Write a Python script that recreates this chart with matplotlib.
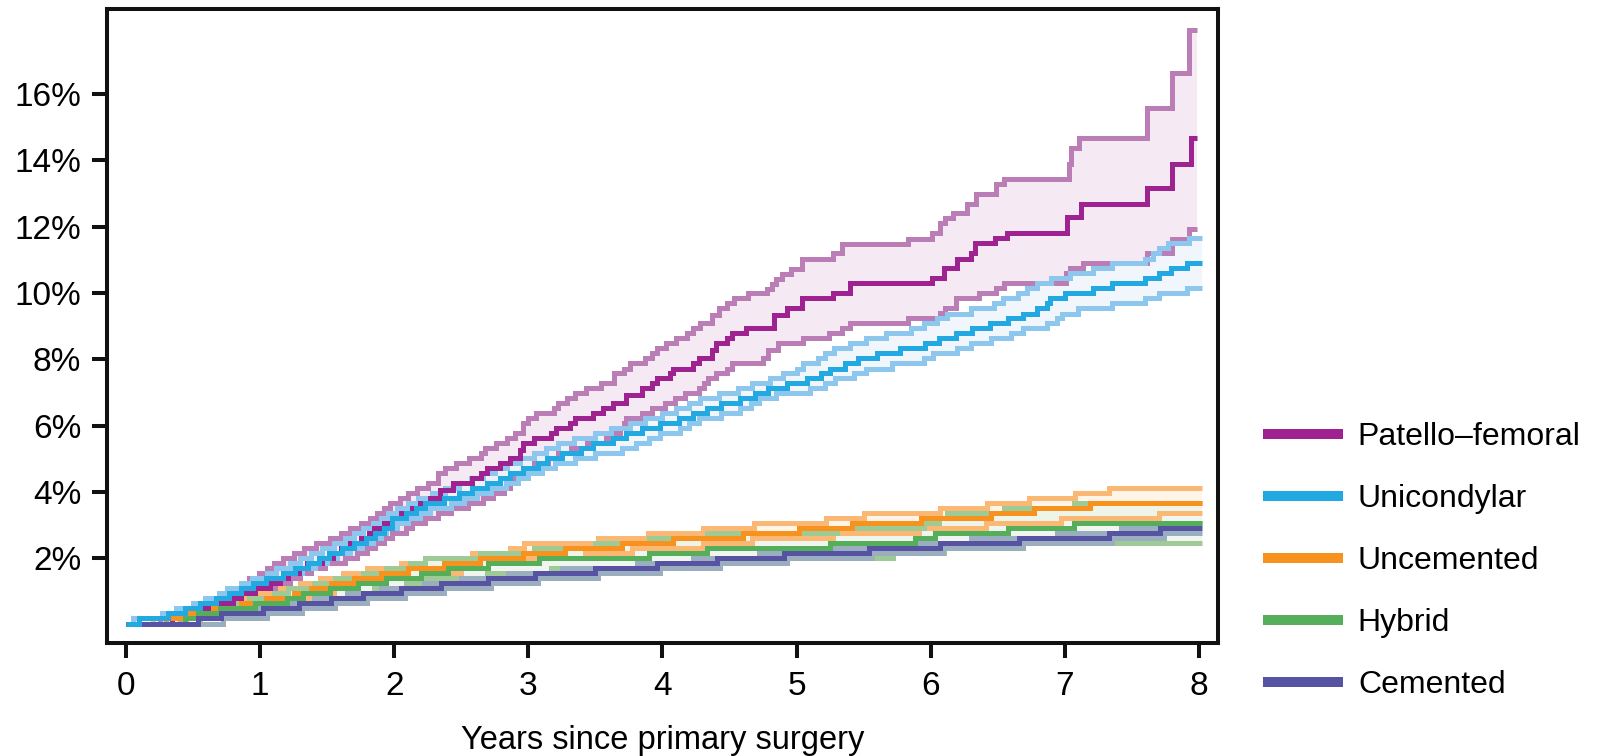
import numpy as np
import matplotlib
matplotlib.use('Agg')
import matplotlib.pyplot as plt
from matplotlib.lines import Line2D

plt.rcParams['font.family'] = ['Liberation Sans', 'DejaVu Sans']

# ---- data (years, cumulative revision %) ----
labels = ['Patello\u2013femoral', 'Unicondylar', 'Uncemented', 'Hybrid', 'Cemented']
x_ticks = [0, 1, 2, 3, 4, 5, 6, 7, 8]
y_ticks = [2, 4, 6, 8, 10, 12, 14, 16]

# Patello-femoral
pf_est_t = [0, 0.34, 0.48, 0.59, 0.69, 0.80, 0.86, 0.96, 1.07, 1.15, 1.21, 1.29, 1.35, 1.46, 1.54, 1.60, 1.67, 1.75,
            1.81, 1.85, 1.92, 1.98, 2.05, 2.13, 2.19, 2.27, 2.34, 2.44, 2.58, 2.65, 2.69, 2.79, 2.86, 2.94, 2.96, 3.04,
            3.17, 3.21, 3.31, 3.35, 3.48, 3.56, 3.63, 3.73, 3.85, 3.92, 3.96, 4.06, 4.08, 4.23, 4.27, 4.37, 4.40, 4.48,
            4.52, 4.62, 4.83, 4.93, 5.04, 5.27, 5.40, 6.01, 6.10, 6.20, 6.30, 6.33, 6.48, 6.57, 7.02, 7.12, 7.61, 7.80, 7.94]
pf_est = [0.0, 0.18, 0.33, 0.48, 0.63, 0.78, 0.94, 1.09, 1.24, 1.39, 1.54, 1.69, 1.84, 1.99, 2.14, 2.29, 2.44, 2.60,
          2.75, 2.90, 3.05, 3.20, 3.35, 3.51, 3.65, 3.80, 4.05, 4.25, 4.41, 4.56, 4.71, 4.86, 5.01, 5.26, 5.46, 5.61,
          5.76, 5.91, 6.07, 6.22, 6.37, 6.52, 6.67, 6.92, 7.12, 7.28, 7.42, 7.58, 7.72, 7.88, 8.03, 8.28, 8.48, 8.63,
          8.78, 8.93, 9.33, 9.54, 9.86, 10.00, 10.29, 10.44, 10.74, 11.04, 11.20, 11.50, 11.65, 11.80, 12.30, 12.70,
          13.16, 13.90, 14.67]
pf_hi_t = [0, 0.25, 0.40, 0.50, 0.60, 0.68, 0.75, 0.82, 0.88, 0.92, 0.99, 1.05, 1.10, 1.17, 1.25, 1.33, 1.42, 1.52,
           1.60, 1.67, 1.75, 1.82, 1.87, 1.92, 1.97, 2.04, 2.10, 2.17, 2.25, 2.33, 2.38, 2.46, 2.56, 2.65, 2.68, 2.76,
           2.84, 2.90, 2.96, 3.00, 3.06, 3.19, 3.22, 3.29, 3.35, 3.43, 3.54, 3.64, 3.71, 3.76, 3.87, 3.92, 3.96, 4.03,
           4.10, 4.18, 4.23, 4.28, 4.37, 4.42, 4.48, 4.53, 4.64, 4.78, 4.82, 4.85, 4.89, 4.96, 5.04, 5.27, 5.34, 5.83,
           6.01, 6.07, 6.11, 6.17, 6.27, 6.34, 6.49, 6.55, 7.03, 7.05, 7.11, 7.61, 7.80, 7.93]
pf_hi = [0, 0.18, 0.33, 0.48, 0.63, 0.78, 0.94, 1.09, 1.24, 1.39, 1.54, 1.69, 1.84, 1.99, 2.14, 2.29, 2.44, 2.60,
         2.75, 2.90, 3.05, 3.20, 3.35, 3.50, 3.65, 3.80, 3.95, 4.10, 4.25, 4.56, 4.71, 4.86, 5.01, 5.16, 5.31, 5.46,
         5.61, 5.76, 6.07, 6.22, 6.37, 6.52, 6.67, 6.82, 6.97, 7.12, 7.27, 7.57, 7.72, 7.88, 8.03, 8.18, 8.33, 8.48,
         8.63, 8.78, 8.93, 9.08, 9.33, 9.54, 9.69, 9.84, 9.99, 10.12, 10.27, 10.42, 10.57, 10.72, 11.04, 11.20, 11.47,
         11.63, 11.80, 12.10, 12.25, 12.40, 12.70, 13.00, 13.30, 13.44, 13.90, 14.36, 14.67, 15.57, 16.63, 17.95]
pf_lo_t = [0, 0.40, 0.45, 0.60, 0.72, 0.82, 0.90, 1.00, 1.08, 1.16, 1.22, 1.30, 1.38, 1.48, 1.63, 1.72, 1.80, 1.86,
           1.92, 1.98, 2.09, 2.13, 2.23, 2.33, 2.42, 2.55, 2.66, 2.74, 2.82, 2.86, 2.90, 2.97, 3.00, 3.04, 3.15, 3.22,
           3.32, 3.44, 3.58, 3.64, 3.68, 3.71, 3.73, 3.85, 3.92, 4.02, 4.09, 4.17, 4.27, 4.31, 4.34, 4.40, 4.48, 4.52,
           4.75, 4.79, 4.86, 5.05, 5.24, 5.34, 5.40, 5.83, 6.07, 6.11, 6.19, 6.36, 6.49, 6.55, 7.01, 7.04, 7.14, 7.61,
           7.80, 7.93]
pf_lo = [0, 0.03, 0.18, 0.33, 0.48, 0.63, 0.78, 0.94, 1.09, 1.24, 1.39, 1.54, 1.69, 1.84, 1.99, 2.14, 2.29, 2.44,
         2.60, 2.75, 2.90, 3.05, 3.20, 3.35, 3.50, 3.65, 3.80, 3.95, 4.10, 4.25, 4.41, 4.56, 4.71, 4.86, 5.01, 5.16,
         5.31, 5.46, 5.61, 5.76, 5.91, 6.07, 6.22, 6.37, 6.52, 6.67, 6.82, 6.97, 7.12, 7.27, 7.42, 7.57, 7.72, 7.88,
         8.03, 8.28, 8.48, 8.65, 8.80, 8.95, 9.10, 9.25, 9.40, 9.55, 9.86, 10.00, 10.16, 10.29, 10.59, 10.74, 10.89,
         11.20, 11.62, 11.92]
pf_end = 7.99

# Unicondylar
uni_est_t = [0, 0.10, 0.31, 0.44, 0.55, 0.67, 0.77, 0.86, 0.95, 1.04, 1.17, 1.26, 1.36, 1.44, 1.51, 1.61, 1.70, 1.79,
             1.86, 1.92, 1.98, 2.09, 2.16, 2.23, 2.37, 2.48, 2.58, 2.69, 2.79, 2.86, 2.96, 3.07, 3.14, 3.25, 3.39, 3.48,
             3.63, 3.73, 3.85, 3.98, 4.12, 4.23, 4.33, 4.44, 4.58, 4.69, 4.79, 4.93, 5.08, 5.18, 5.25, 5.36, 5.46, 5.60,
             5.77, 5.96, 6.06, 6.19, 6.31, 6.44, 6.58, 6.69, 6.79, 6.87, 6.89, 7.00, 7.21, 7.35, 7.60, 7.70, 7.79, 7.91]
uni_est = [0, 0.18, 0.33, 0.48, 0.63, 0.78, 0.94, 1.09, 1.24, 1.39, 1.54, 1.69, 1.84, 1.99, 2.14, 2.29, 2.44, 2.60,
           2.75, 2.90, 3.20, 3.35, 3.50, 3.65, 3.80, 3.95, 4.10, 4.25, 4.41, 4.56, 4.71, 4.86, 5.01, 5.16, 5.31, 5.46,
           5.61, 5.76, 5.91, 6.07, 6.22, 6.37, 6.52, 6.67, 6.82, 6.97, 7.12, 7.27, 7.42, 7.57, 7.72, 7.88, 8.03, 8.18,
           8.33, 8.48, 8.63, 8.78, 8.93, 9.08, 9.23, 9.38, 9.54, 9.69, 9.84, 9.99, 10.14, 10.29, 10.44, 10.59, 10.74, 10.89]
uni_hi_t = [0, 0.05, 0.27, 0.37, 0.50, 0.59, 0.69, 0.75, 0.86, 0.94, 1.05, 1.12, 1.22, 1.30, 1.38, 1.46, 1.55, 1.63,
            1.70, 1.77, 1.84, 1.90, 1.95, 2.02, 2.10, 2.18, 2.28, 2.38, 2.48, 2.57, 2.66, 2.75, 2.84, 2.94, 3.04, 3.13,
            3.22, 3.34, 3.50, 3.62, 3.76, 3.87, 4.00, 4.10, 4.20, 4.28, 4.42, 4.56, 4.67, 4.80, 4.90, 5.00, 5.05, 5.16,
            5.21, 5.28, 5.40, 5.52, 5.67, 5.85, 5.95, 6.05, 6.12, 6.30, 6.47, 6.54, 6.65, 6.72, 6.79, 6.90, 7.04, 7.21,
            7.35, 7.60, 7.66, 7.70, 7.77, 7.93]
uni_hi = [0, 0.18, 0.33, 0.48, 0.63, 0.78, 0.94, 1.09, 1.24, 1.39, 1.54, 1.69, 1.84, 1.99, 2.14, 2.29, 2.44, 2.60,
          2.75, 2.90, 3.05, 3.20, 3.35, 3.50, 3.65, 3.80, 3.95, 4.10, 4.25, 4.41, 4.56, 4.71, 4.86, 5.01, 5.16, 5.31,
          5.46, 5.61, 5.76, 5.91, 6.07, 6.22, 6.37, 6.52, 6.67, 6.82, 6.97, 7.12, 7.27, 7.42, 7.57, 7.72, 7.88, 8.03,
          8.18, 8.33, 8.48, 8.63, 8.78, 8.93, 9.08, 9.23, 9.38, 9.54, 9.69, 9.84, 9.99, 10.14, 10.29, 10.44, 10.59,
          10.74, 10.89, 11.04, 11.20, 11.35, 11.50, 11.65]
uni_lo_t = [0, 0.20, 0.36, 0.50, 0.60, 0.72, 0.82, 0.91, 1.01, 1.10, 1.21, 1.31, 1.41, 1.50, 1.57, 1.67, 1.76, 1.84,
            1.90, 1.94, 2.02, 2.10, 2.19, 2.27, 2.42, 2.52, 2.62, 2.72, 2.83, 2.92, 3.00, 3.10, 3.20, 3.35, 3.50, 3.70,
            3.80, 3.90, 3.98, 4.13, 4.20, 4.27, 4.44, 4.58, 4.66, 4.72, 4.85, 5.10, 5.21, 5.29, 5.43, 5.52, 5.71, 5.95,
            6.02, 6.20, 6.30, 6.45, 6.60, 6.69, 6.87, 6.94, 6.98, 7.10, 7.35, 7.60, 7.70, 7.91]
uni_lo = [0, 0.18, 0.33, 0.48, 0.63, 0.78, 0.94, 1.09, 1.24, 1.39, 1.54, 1.69, 1.84, 1.99, 2.14, 2.29, 2.44, 2.60,
          2.75, 2.90, 3.05, 3.20, 3.35, 3.50, 3.65, 3.80, 3.95, 4.10, 4.25, 4.41, 4.56, 4.71, 4.86, 5.01, 5.16, 5.31,
          5.46, 5.61, 5.76, 5.91, 6.07, 6.22, 6.37, 6.52, 6.67, 6.82, 6.97, 7.12, 7.27, 7.42, 7.57, 7.72, 7.88, 8.03,
          8.18, 8.33, 8.48, 8.63, 8.78, 8.93, 9.08, 9.23, 9.38, 9.54, 9.69, 9.84, 9.99, 10.14]
uni_end = 8.02

# Uncemented
unc_est_t = [0, 0.30, 0.45, 0.65, 0.86, 1.04, 1.25, 1.38, 1.53, 1.70, 1.90, 2.10, 2.37, 2.64, 2.96, 3.27, 3.70, 4.08,
             4.60, 5.02, 5.41, 5.93, 6.45, 6.77, 7.19]
unc_est = [0, 0.18, 0.33, 0.48, 0.63, 0.78, 0.94, 1.09, 1.24, 1.39, 1.54, 1.69, 1.84, 1.99, 2.14, 2.29, 2.44, 2.60,
           2.75, 2.90, 3.05, 3.20, 3.35, 3.50, 3.65]
unc_hi_t = [0, 0.20, 0.35, 0.50, 0.70, 0.85, 1.00, 1.15, 1.30, 1.45, 1.62, 1.80, 2.05, 2.23, 2.58, 2.86, 2.97, 3.52,
            3.89, 4.30, 4.68, 5.22, 5.50, 6.07, 6.42, 6.73, 7.08, 7.33]
unc_hi = [0, 0.18, 0.33, 0.48, 0.63, 0.78, 0.94, 1.09, 1.24, 1.39, 1.54, 1.69, 1.84, 1.99, 2.14, 2.29, 2.44, 2.60,
          2.75, 2.90, 3.05, 3.20, 3.35, 3.50, 3.65, 3.80, 3.95, 4.10]
unc_lo_t = [0, 0.45, 0.60, 0.80, 1.00, 1.20, 1.38, 1.55, 1.72, 1.90, 2.20, 2.50, 2.70, 2.96, 3.42, 3.77, 4.30, 4.67,
            5.27, 5.91, 6.41, 6.97, 7.70]
unc_lo = [0, 0.18, 0.33, 0.48, 0.63, 0.78, 0.94, 1.09, 1.24, 1.39, 1.54, 1.69, 1.84, 1.99, 2.14, 2.29, 2.44, 2.60,
          2.75, 2.90, 3.05, 3.20, 3.35]
unc_end = 8.02

# Hybrid
hyb_est_t = [0, 0.44, 0.54, 0.70, 0.96, 1.20, 1.32, 1.52, 1.73, 1.94, 2.20, 2.40, 2.70, 3.08, 3.90, 4.33, 5.25, 5.88,
             6.03, 6.58, 7.07]
hyb_est = [0, 0.18, 0.33, 0.48, 0.63, 0.78, 0.94, 1.09, 1.24, 1.39, 1.54, 1.69, 1.84, 1.99, 2.14, 2.29, 2.44, 2.60,
           2.75, 2.90, 3.05]
hyb_hi_t = [0, 0.30, 0.42, 0.55, 0.75, 0.92, 1.10, 1.21, 1.40, 1.56, 1.77, 1.94, 2.12, 2.23, 2.64, 3.04, 3.50, 3.90,
            4.33, 5.30, 5.95, 6.06, 6.12, 6.55, 7.07]
hyb_hi = [0, 0.18, 0.33, 0.48, 0.63, 0.78, 0.94, 1.09, 1.24, 1.39, 1.54, 1.69, 1.84, 1.99, 2.14, 2.29, 2.44, 2.60,
          2.75, 2.90, 3.05, 3.20, 3.35, 3.50, 3.65]
hyb_lo_t = [0, 0.55, 0.72, 0.98, 1.25, 1.42, 1.65, 1.85, 2.09, 2.23, 2.69, 3.17, 3.98, 4.93, 5.72, 6.10, 6.69]
hyb_lo = [0, 0.18, 0.33, 0.48, 0.63, 0.78, 0.94, 1.09, 1.24, 1.39, 1.54, 1.69, 1.84, 1.99, 2.14, 2.29, 2.44]
hyb_end = 8.02

# Cemented
cem_est_t = [0, 0.54, 0.71, 1.02, 1.29, 1.53, 1.77, 2.05, 2.35, 2.70, 3.05, 3.50, 3.96, 4.41, 4.91, 5.54, 6.07, 6.66,
             7.33, 7.71]
cem_est = [0, 0.18, 0.33, 0.48, 0.63, 0.78, 0.94, 1.09, 1.24, 1.39, 1.54, 1.69, 1.84, 1.99, 2.14, 2.29, 2.44, 2.60,
           2.75, 2.90]
cem_hi_t = [0, 0.40, 0.60, 0.88, 1.15, 1.40, 1.65, 1.90, 2.22, 2.50, 2.85, 3.25, 3.81, 4.23, 4.72, 5.27, 5.91, 6.30,
            6.94, 7.42, 7.75]
cem_hi = [0, 0.18, 0.33, 0.48, 0.63, 0.78, 0.94, 1.09, 1.24, 1.39, 1.54, 1.69, 1.84, 1.99, 2.14, 2.29, 2.44, 2.60,
          2.75, 2.90, 3.05]
cem_lo_t = [0, 0.72, 1.05, 1.31, 1.56, 1.80, 2.08, 2.37, 2.72, 3.07, 3.52, 3.98, 4.43, 4.93, 5.56, 6.09, 6.69, 7.35,
            7.74]
cem_lo = [0, 0.18, 0.33, 0.48, 0.63, 0.78, 0.94, 1.09, 1.24, 1.39, 1.54, 1.69, 1.84, 1.99, 2.14, 2.29, 2.44, 2.60, 2.75]
cem_end = 8.02

# colours: main line, CI line, CI band
main_colors = ['#9E228F', '#23A9E1', '#F7921E', '#55AE5A', '#5553A2']
ci_colors = ['#BB7DB5', '#8DC7EE', '#FBB874', '#9ECA96', '#9AAEC0']
band_colors = ['#F2E4F1', '#EBF4FC', '#FEF1E1', '#EBF4EA', '#F3F6F9']

series = [
    (pf_est_t, pf_est, pf_hi_t, pf_hi, pf_lo_t, pf_lo, pf_end),
    (uni_est_t, uni_est, uni_hi_t, uni_hi, uni_lo_t, uni_lo, uni_end),
    (unc_est_t, unc_est, unc_hi_t, unc_hi, unc_lo_t, unc_lo, unc_end),
    (hyb_est_t, hyb_est, hyb_hi_t, hyb_hi, hyb_lo_t, hyb_lo, hyb_end),
    (cem_est_t, cem_est, cem_hi_t, cem_hi, cem_lo_t, cem_lo, cem_end),
]


def step_at(t, v, grid):
    idx = np.searchsorted(t, grid, side='right') - 1
    return np.asarray(v)[idx]


fig = plt.figure(figsize=(15.99, 7.56), dpi=100)
ax = fig.add_axes([107 / 1599, 1 - 643 / 756, (1218 - 107) / 1599, (643 - 9) / 756])

lw = 3.6
for i, (et, ev, ht, hv, lt, lv, end) in enumerate(series):
    grid = np.union1d(ht + [end], lt + [end])
    ax.fill_between(grid, step_at(lt, lv, grid), step_at(ht, hv, grid), step='post',
                    color=band_colors[i], alpha=0.75, lw=0, zorder=1)
    for tt, vv in ((ht, hv), (lt, lv)):
        ax.step(tt + [end], vv + [vv[-1]], where='post', color=ci_colors[i], lw=lw,
                solid_joinstyle='miter', solid_capstyle='butt', zorder=2)
for i, (et, ev, ht, hv, lt, lv, end) in enumerate(series):
    ax.step(et + [end], ev + [ev[-1]], where='post', color=main_colors[i], lw=lw,
            solid_joinstyle='miter', solid_capstyle='butt', zorder=3 + (0.5 if i == 1 else 0))

ax.set_xlim(-0.142, 8.143)
ax.set_ylim(-0.564, 18.57)
ax.set_xticks(x_ticks)
ax.set_xticklabels([str(x) for x in x_ticks])
ax.set_yticks(y_ticks)
ax.set_yticklabels([f'{y}%' for y in y_ticks])
ax.tick_params(axis='both', direction='out', length=10.5, width=2.9, labelsize=24, color='#111111')
ax.tick_params(axis='x', pad=10)
ax.tick_params(axis='y', pad=8)
for s in ax.spines.values():
    s.set_linewidth(2.9)
    s.set_color('#111111')
ax.set_xlabel('Years since primary surgery', fontsize=23.5, labelpad=16)

handles = [Line2D([0], [0], color=c, lw=7.2, solid_capstyle='butt') for c in main_colors]
fig.legend(handles, labels, loc='center left', bbox_to_anchor=(1263 / 1599, 1 - 561 / 756),
           frameon=False, fontsize=23, handlelength=2.5, handletextpad=0.47, labelspacing=1.0,
           borderpad=0, borderaxespad=0)

fig.savefig('out.png', dpi=100)
